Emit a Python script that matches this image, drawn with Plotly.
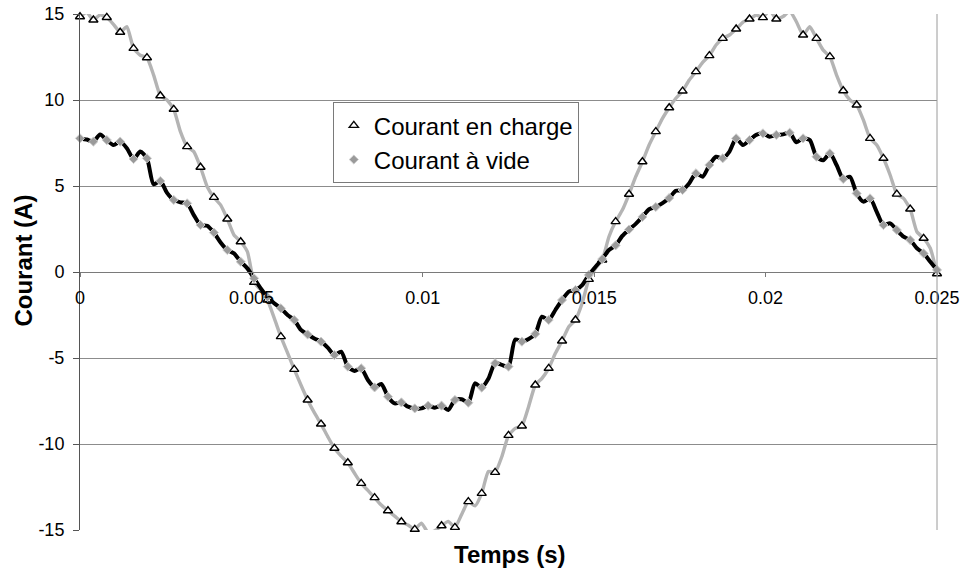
import plotly.graph_objects as go

# Sampled current waveforms (A); markers sit on every second sample
SAMPLE_PERIOD = 0.025 / 128  # s

courant_charge = [
    14.84, 15.1, 14.65, 14.95, 14.8, 14.4, 13.94, 14.26, 13.0, 12.6,
    12.46, 11.45, 10.25, 10.0, 9.46, 8.16, 7.29, 7.0, 6.09, 4.96,
    4.34, 3.9, 3.08, 2.15, 1.76, 1.18, -0.6, -1.05, -1.63, -2.67,
    -3.76, -4.7, -5.66, -6.57, -7.44, -8.18, -8.84, -9.57, -10.25, -10.7,
    -11.09, -11.7, -12.29, -12.7, -13.12, -13.55, -13.88, -14.19, -14.52, -14.71,
    -14.96, -14.6, -15.15, -15.04, -14.75, -14.5, -14.85, -14.1, -13.35, -13.6,
    -12.87, -11.6, -11.65, -10.74, -9.5, -9.09, -8.95, -7.83, -6.57, -6.18,
    -5.6, -4.73, -4.01, -3.18, -2.79, -1.82, -0.43, 0.21, 0.7, 2.05,
    2.93, 3.6, 4.52, 5.54, 6.41, 7.38, 8.16, 8.93, 9.55, 10.1,
    10.52, 11.16, 11.65, 12.19, 12.58, 13.2, 13.58, 13.78, 14.13, 14.52,
    14.71, 14.94, 14.79, 15.23, 14.71, 14.85, 15.17, 14.55, 13.78, 14.26,
    13.58, 12.9, 12.52, 11.45, 10.54, 10.0, 9.71, 8.84, 7.77, 7.38,
    6.61, 5.64, 4.53, 4.28, 3.66, 2.34, 1.96, 1.38, -0.1,
]

courant_vide = [
    7.77, 7.7, 7.58, 8.0, 7.67, 7.38, 7.58, 7.2, 6.57, 7.0,
    6.61, 5.1, 5.29, 4.6, 4.19, 4.05, 3.99, 3.31, 2.73, 2.69,
    2.29, 1.72, 1.28, 1.08, 0.6, 0.21, -0.37, -0.95, -1.45, -1.82,
    -2.11, -2.5, -2.79, -3.37, -3.63, -3.86, -4.05, -4.4, -4.83, -4.63,
    -5.5, -5.75, -5.6, -6.28, -6.71, -6.51, -7.25, -7.64, -7.58, -7.83,
    -7.93, -7.93, -7.77, -7.89, -7.77, -8.02, -7.44, -7.4, -7.6, -6.47,
    -6.72, -6.2, -5.3, -5.4, -5.5, -3.92, -4.05, -3.9, -3.6, -2.6,
    -2.79, -2.21, -1.63, -1.14, -1.05, -0.76, -0.17, 0.31, 0.75, 1.28,
    1.55, 2.1, 2.47, 2.8, 3.2, 3.65, 3.78, 4.0, 4.3, 4.72,
    4.77, 5.16, 5.74, 5.54, 6.22, 6.7, 6.61, 7.0, 7.77, 7.38,
    7.67, 7.97, 8.06, 7.87, 7.97, 8.0, 8.1, 7.54, 7.77, 7.67,
    6.7, 6.5, 6.9, 6.22, 5.41, 5.54, 4.57, 4.09, 4.28, 3.5,
    2.73, 2.83, 2.44, 2.05, 1.86, 1.38, 1.08, 0.6, 0.12,
]

x_ticks = [0, 0.005, 0.01, 0.015, 0.02, 0.025]
x_ticktext = ["0", "0.005", "0.01", "0.015", "0.02", "0.025"]
y_ticks = [-15, -10, -5, 0, 5, 10, 15]
y_ticktext = ["-15", "-10", "-5", "0", "5", "10", "15"]

Y_LIM = 15
time_s = [k * SAMPLE_PERIOD for k in range(len(courant_charge))]
t_mark = time_s[::2]
charge_mark = courant_charge[::2]
vide_mark = courant_vide[::2]
# points beyond the axis limits get no marker
charge_op = [1 if abs(v) <= Y_LIM else 0 for v in charge_mark]
vide_op = [1 if abs(v) <= Y_LIM else 0 for v in vide_mark]

FONT = "Liberation Sans, Arial, sans-serif"

fig = go.Figure()

fig.add_trace(go.Scatter(
    x=time_s, y=courant_charge, mode="lines", showlegend=False,
    line=dict(color="#b4b4b4", width=3.4, shape="spline", smoothing=0.5),
    hoverinfo="skip",
))
fig.add_trace(go.Scatter(
    x=time_s, y=courant_vide, mode="lines", showlegend=False,
    line=dict(color="#000000", width=4, shape="spline", smoothing=0.7),
    hoverinfo="skip",
))
fig.add_trace(go.Scatter(
    x=t_mark, y=charge_mark, mode="markers", name="Courant en charge",
    cliponaxis=False,
    marker=dict(symbol="triangle-up", size=8, color="white",
                opacity=charge_op, line=dict(color="black", width=1.4)),
))
fig.add_trace(go.Scatter(
    x=t_mark, y=vide_mark, mode="markers", name="Courant à vide",
    cliponaxis=False,
    marker=dict(symbol="diamond", size=7, color="#9a9a9a",
                opacity=vide_op, line=dict(color="#cfcfcf", width=1)),
))

fig.update_layout(
    width=963, height=577,
    margin=dict(l=80, r=26, t=14, b=47),
    paper_bgcolor="white", plot_bgcolor="white",
    font=dict(family=FONT, size=18, color="black"),
    xaxis=dict(
        range=[0, 0.025], anchor="free", position=0.5, automargin=False,
        tickvals=x_ticks, ticktext=x_ticktext,
        showgrid=False, zeroline=False,
        showline=True, linecolor="#7a7a7a", linewidth=1,
        ticks="outside", ticklen=4, tickcolor="#7a7a7a",
        ticklabelstandoff=5,
        tickfont=dict(family=FONT, size=18),
    ),
    yaxis=dict(
        range=[-Y_LIM, Y_LIM], tickvals=y_ticks, ticktext=y_ticktext,
        automargin=False,
        showgrid=True, gridcolor="#8c8c8c", gridwidth=1,
        zeroline=False,
        showline=True, linecolor="#555555", linewidth=1,
        ticks="outside", ticklen=6, tickcolor="#555555",
        ticklabelstandoff=5,
        tickfont=dict(family=FONT, size=18),
    ),
    legend=dict(
        x=0.295, y=0.829, xanchor="left", yanchor="top",
        bgcolor="white", bordercolor="#7a7a7a", borderwidth=1,
        font=dict(family=FONT, size=24),
        tracegroupgap=0,
    ),
    shapes=[dict(type="line", xref="paper", yref="paper",
                 x0=1, x1=1, y0=0, y1=1,
                 line=dict(color="#9a9a9a", width=1))],
    annotations=[
        dict(text="Temps (s)", xref="paper", yref="paper",
             x=0.502, y=-0.048, xanchor="center", yanchor="middle",
             showarrow=False, font=dict(family=FONT, size=24, weight="bold")),
        dict(text="Courant (A)", xref="paper", yref="paper",
             x=-0.066, y=0.523, xanchor="center", yanchor="middle",
             textangle=-90, showarrow=False,
             font=dict(family=FONT, size=24, weight="bold")),
    ],
)

fig.write_html("out.html")
